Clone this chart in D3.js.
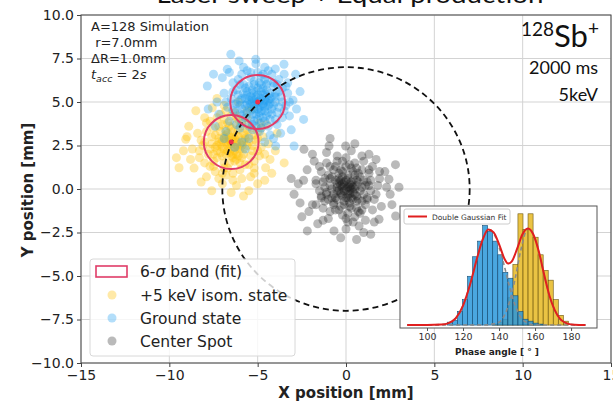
<!DOCTYPE html>
<html lang="en">
<head>
<meta charset="UTF-8">
<script src="https://d3js.org/d3.v7.min.js"></script>
<style>
  body { margin: 0; background: #fff; }
  svg { display: block; font-family: "DejaVu Sans", sans-serif; }
</style>
<title>Laser sweep + Equal production</title>
</head>
<body>
<div id="chart"></div>
<script>
// ---- data ----
const xTicks = [-15, -10, -5, 0, 5, 10, 15];
const yTicks = [-10, -7.5, -5, -2.5, 0, 2.5, 5, 7.5, 10];

const isomerPoints = [
  [-6.5,2.7],[-6.3,2.9],[-6.7,2.5],[-6.1,2.4],[-6.9,3.0],[-6.4,3.3],[-6.6,2.1],[-5.9,2.8],[-7.1,2.6],[-6.8,3.4],
  [-6.2,2.0],[-5.8,3.2],[-7.3,2.2],[-6.0,3.6],[-7.0,1.9],[-5.6,2.5],[-7.4,3.1],[-6.3,1.6],[-5.5,3.0],[-7.6,2.6],
  [-6.7,3.8],[-5.9,1.8],[-7.2,3.6],[-5.3,2.2],[-7.8,2.0],[-6.1,4.0],[-6.9,1.5],[-5.4,3.5],[-7.9,3.3],[-5.7,1.4],
  [-7.5,1.6],[-5.1,2.8],[-6.5,4.2],[-8.1,2.5],[-6.0,1.1],[-5.0,3.3],[-7.7,3.9],[-6.4,0.9],[-8.3,1.8],[-5.2,1.6],
  [-7.1,4.3],[-4.8,2.4],[-8.4,3.2],[-6.8,0.8],[-5.6,4.1],[-7.4,1.0],[-4.7,3.0],[-8.0,4.1],[-5.9,0.6],[-4.9,1.9],
  [-9.45,1.22],[-9.07,2.86],[-7.57,4.67],[-4.55,1.22],[-8.7,2.3],[-8.6,1.2],[-7.0,0.3],[-6.2,0.2],[-5.4,0.7],[-4.4,2.6],
  [-4.3,1.7],[-7.9,0.7],[-8.9,3.6],[-6.9,4.8],[-5.3,4.6],[-4.5,3.7],[-9.2,2.2],[-6.5,-0.2],[-7.6,-0.1],[-5.8,-0.4],
  [-4.0,2.2],[-8.5,4.5],[-6.1,5.0],[-3.9,3.2],[-9.6,1.8],[-7.3,5.2],[-5.0,0.3],[-8.2,0.4],[-4.2,0.9],[-3.5,1.5],
  [-6.6,2.8],[-6.3,2.4],[-6.8,2.9],[-6.0,2.6],[-6.9,2.3],[-6.4,3.0],[-7.0,2.8],[-6.2,3.1],[-6.7,2.2],[-5.8,2.3],
  [-7.2,2.9],[-6.1,3.4],[-6.5,1.9],[-5.7,2.9],[-7.3,2.5],[-6.6,3.6],[-6.2,1.7],[-7.5,2.0],[-5.6,3.7],[-6.9,1.2],
  [-8.2,2.8],[-5.2,1.2],[-7.7,1.3],[-4.9,3.8],[-8.8,1.7],[-6.3,4.4],[-5.5,-0.1],[-7.2,0.6],[-4.6,0.5],[-9.0,3.0],
  [-6.5,2.6],[-6.4,2.8],[-6.6,3.0],[-6.3,2.2],[-6.8,2.7],[-6.2,2.7],[-6.0,2.3],[-7.0,2.4],[-6.7,3.2],[-6.1,3.0],
  [-7.2,2.7],[-5.9,2.5],[-6.5,3.5],[-6.4,1.8],[-7.1,3.3],[-5.7,3.1],[-6.8,2.0],[-5.8,2.0],[-7.4,2.4],[-6.3,3.8],
  [-7.0,3.7],[-5.5,2.7],[-6.6,1.5],[-5.6,3.4],[-7.6,3.0],[-6.0,1.5],[-7.3,1.8],[-5.3,2.5],[-6.9,4.0],[-5.9,3.9],
  [-7.7,2.3],[-5.4,1.9],[-6.2,4.2],[-7.5,3.5],[-5.2,3.1],[-6.7,1.2],[-8.0,2.7],[-5.5,1.4],[-7.3,4.1],[-5.0,2.2],
  [-6.5,2.3],[-6.2,2.5],[-6.8,3.1],[-6.6,2.6],[-6.4,2.0],[-7.1,2.1],[-5.8,2.7],[-6.1,1.9],[-7.5,1.3],[-5.0,2.9],
  [-8.3,2.2],[-6.4,0.5],[-4.8,3.5],[-7.9,3.8],[-5.6,4.5],[-8.0,1.5],[-4.6,2.0],[-6.8,4.5],[-5.2,0.9],[-7.0,0.9]
];

const groundPoints = [
  [-5.0,5.0],[-4.8,5.2],[-5.2,4.8],[-4.6,4.7],[-5.4,5.3],[-5.1,5.6],[-4.9,4.4],[-4.4,5.1],[-5.6,4.9],[-5.3,4.3],
  [-4.7,5.8],[-4.2,4.6],[-5.8,5.5],[-4.5,4.2],[-5.5,5.9],[-4.3,5.5],[-5.9,4.6],[-4.9,6.1],[-5.2,3.9],[-4.0,5.0],
  [-6.0,5.1],[-4.6,6.3],[-5.7,4.1],[-3.9,4.4],[-5.4,6.4],[-4.1,5.9],[-6.2,5.7],[-4.8,3.8],[-3.7,5.3],[-6.3,4.4],
  [-5.0,6.7],[-4.4,3.6],[-5.9,3.8],[-3.6,5.8],[-6.5,5.2],[-4.2,6.6],[-5.6,6.8],[-3.4,4.8],[-6.1,6.3],[-4.9,3.3],
  [-3.8,6.3],[-6.7,4.7],[-5.3,3.4],[-3.3,5.5],[-6.4,6.1],[-4.6,7.0],[-3.9,3.7],[-6.0,3.5],[-5.1,7.2],[-3.2,4.2],
  [-6.9,5.5],[-4.0,6.9],[-5.8,7.0],[-3.5,6.6],[-6.6,3.9],[-4.3,3.1],[-3.0,5.1],[-6.52,7.74],[-6.05,7.36],[-5.11,7.45],
  [-3.51,7.17],[-7.85,5.92],[-6.72,6.88],[-2.85,6.59],[-2.94,2.47],[-3.98,2.47],[-7.3,5.0],[-7.0,6.4],[-2.8,4.6],[-3.1,3.4],
  [-5.5,2.9],[-4.6,2.7],[-7.2,4.3],[-2.6,5.6],[-5.9,2.7],[-4.1,2.9],[-7.5,6.6],[-3.3,6.1],[-6.8,3.3],[-2.4,4.0],
  [-5.2,6.0],[-4.7,5.4],[-5.6,5.6],[-4.4,4.4],[-5.0,4.0],[-4.8,6.5],[-5.3,5.0],[-4.5,5.0],[-5.7,5.2],[-4.2,5.3],
  [-4.9,4.7],[-5.1,5.3],[-5.4,4.5],[-4.7,4.9],[-5.2,5.1],[-4.6,5.5],[-5.5,4.7],[-4.3,4.9],[-5.8,6.0],[-4.0,5.5],
  [-6.2,4.9],[-3.9,6.0],[-6.4,5.6],[-5.3,3.7],[-4.8,3.5],[-6.0,4.3],[-3.6,4.1],[-4.5,6.0],[-6.6,6.7],[-3.7,3.2],
  [-6.9,2.9],[-7.4,3.6],[-6.3,2.4],[-7.8,4.6],[-5.7,2.3],
  [-5.1,4.9],[-4.9,5.1],[-5.3,5.2],[-4.7,4.8],[-5.0,5.4],[-5.2,4.6],[-4.8,5.6],[-4.5,5.3],[-5.5,5.1],[-4.6,4.5],
  [-5.4,4.9],[-4.4,4.8],[-5.7,4.8],[-4.9,4.2],[-5.0,5.8],[-4.3,5.2],[-5.6,5.4],[-4.7,4.1],[-5.3,5.7],[-4.1,4.8],
  [-5.9,5.2],[-4.5,5.7],[-5.1,4.3],[-4.2,4.3],[-5.6,4.4],[-4.8,6.0],[-5.4,4.0],[-4.0,5.3],[-6.0,4.8],[-4.4,6.2],
  [-5.7,5.8],[-4.6,3.9],[-5.2,6.2],[-3.8,4.7],[-6.1,5.4],[-4.1,6.1],[-5.5,3.6],[-3.8,5.6],[-6.3,4.9],[-4.7,6.6],
  [-5.1,3.6],[-3.6,5.0],[-6.0,6.0],[-4.3,4.0],[-5.8,4.3],[-4.9,5.0],[-5.0,4.6],[-4.6,5.1],[-5.3,5.5],[-4.8,4.5],
  [-6.4,4.5],[-3.5,4.5],[-5.4,6.7],[-4.4,6.8],[-6.8,5.0],[-3.4,5.9],[-5.9,6.6],[-4.0,4.0],[-6.2,3.7],[-3.2,5.0]
];

const centerPoints = [
  [0.0,0.0],[0.2,0.3],[-0.3,0.2],[0.4,-0.2],[-0.2,-0.4],[0.1,0.6],[-0.5,-0.1],[0.6,0.2],[-0.1,-0.7],[0.3,-0.5],
  [-0.6,0.5],[0.7,-0.6],[-0.4,0.9],[0.5,0.8],[-0.8,-0.5],[0.9,0.1],[-0.2,1.0],[0.2,-1.0],[-0.9,0.2],[1.0,-0.3],
  [-0.7,-0.9],[0.8,0.7],[-1.1,-0.2],[0.3,1.2],[-0.4,-1.2],[1.2,0.4],[-1.0,0.8],[0.6,-1.1],[-1.2,-0.7],[1.1,-0.9],
  [-0.6,1.3],[0.9,1.1],[-1.3,0.4],[0.1,-1.4],[1.4,-0.1],[-0.9,-1.3],[0.5,1.5],[-1.5,-0.1],[1.3,0.9],[-0.2,1.6],
  [0.8,-1.4],[-1.4,1.0],[1.6,-0.6],[-1.1,1.5],[0.0,-1.7],[1.5,1.3],[-1.7,-0.9],[0.4,-1.9],[-0.5,1.9],[1.8,0.2],
  [-0.96,2.47],[-0.02,2.47],[-2.38,2.28],[1.3,1.99],[-2.94,-0.3],[-2.19,-2.41],[-0.68,-2.41],[2.81,-1.55],[2.43,0.56],[1.87,-1.74],
  [0.74,-2.13],[-1.8,1.6],[2.0,-1.0],[-2.1,-1.3],[1.1,-1.8],[-1.3,-1.8],[0.9,1.9],[-2.4,0.5],[2.2,1.0],[-1.6,-2.0],
  [0.3,2.2],[1.6,-1.9],[-2.6,-0.8],[2.5,-0.3],[-1.9,2.0],[0.0,-2.3],[-2.7,0.3],[1.7,1.7],[-0.3,-2.8],[1.0,-2.5],
  [2.6,-0.9],[-2.2,1.1],[0.5,2.6],[-1.1,2.1],[1.9,0.6],[-2.5,-1.6],[2.3,0.1],[-1.7,0.3],[0.2,0.1],[-0.1,0.4],
  [0.4,0.5],[-0.3,-0.2],[0.5,-0.3],[-0.5,0.1],[0.1,-0.5],[0.3,0.0],[-0.2,0.7],[0.7,0.4],[-0.7,-0.3],[0.2,-0.8],
  [-0.4,0.4],[0.6,-0.7],[-0.8,0.7],[1.0,0.5],[-1.0,-0.6],[0.4,1.0],[-0.3,-1.0],[1.2,-0.5],[-1.2,0.1],[0.7,-1.3],
  [-0.7,1.1],[0.0,1.3],[1.3,0.2],[-1.4,-0.4],[3.0,0.1],[-3.1,0.6],[0.6,-2.9],[-0.9,2.9],[2.8,1.4],[1.4,-2.6],
  [0.1,0.1],[-0.1,-0.1],[0.3,0.2],[-0.3,-0.3],[0.2,-0.3],[-0.2,0.3],[0.5,0.0],[-0.5,0.3],[0.0,0.5],[0.0,-0.5],
  [0.6,0.5],[-0.6,-0.5],[0.4,-0.6],[-0.4,0.6],[0.8,-0.1],[-0.8,0.0],[0.1,0.8],[-0.1,-0.9],[0.7,0.9],[-0.7,-0.8],
  [0.9,-0.7],[-0.9,0.6],[0.3,-1.1],[-0.3,1.1],[1.1,0.2],[-1.1,-0.3],[0.6,1.2],[-0.6,-1.2],[1.2,-0.6],[-1.2,0.6],
  [0.2,1.4],[-0.2,-1.5],[1.4,0.5],[-1.4,-0.5],[0.9,-1.2],[-0.9,1.3],[1.3,1.1],[-1.3,-1.1],[0.0,1.8],[0.1,-1.9],
  [1.7,-0.3],[-1.7,0.5],[0.5,-1.6],[-0.5,1.6],[1.5,-1.2],[-1.5,1.3],[1.9,1.0],[-1.9,-0.9],[1.0,1.6],[-1.0,-1.7],
  [0.3,0.4],[-0.4,-0.1],[0.1,-0.3],[-0.2,0.1],[0.4,0.1],[-0.1,0.2],[0.2,-0.1],[-0.3,0.5],[0.6,-0.4],[-0.5,-0.6]
];

// fitted 6-sigma bands and the sweep ring (mm)
const bandCenters = [[-5.0, 5.0], [-6.5, 2.7]];
const bandRadius = 1.55;
const ringRadius = 7.0;

// inset histogram: phase angle bins (deg) and counts
const binEdges = [108.5,111.3,114.1,116.9,119.7,122.5,125.3,128.1,130.9,133.7,136.5,139.3,142.1,
                  144.9,147.7,150.5,153.3,156.1,158.9,161.7,164.5,167.3,170.1,172.9,175.7,178.5];
const groundCounts = [0,3,5,14,26,50,70,86,102,96,86,72,54,48,30,14,6,4,2,1,0,0,0,0,0];
const isomerCounts = [0,0,0,0,0,0,0,0,0,0,1,3,6,28,62,114,98,114,90,72,56,46,26,10,4];

const fitAngle  = [89,100,108,112,116,120,124,128,131,134,137,140,143,145,147,150,153,156,159,162,165,168,171,174,178,182,188];
const fitHeight = [0,0,0.5,2,7,20,42,70,88,98,95,83,68,63,65,78,93,99,93,76,52,30,15,6,1.5,0.3,0];
const compGroundAngle  = [89,108,112,116,120,124,128,131,134,137,140,143,146,149,152,156,160,188];
const compGroundHeight = [0,0.5,2,7,20,42,70,88,98,94,80,60,38,20,8,2,0,0];
const compIsomerAngle  = [89,132,136,140,143,146,149,152,156,159,162,165,168,171,174,178,182,188];
const compIsomerHeight = [0,0,1,3,10,25,48,76,99,93,76,52,30,15,6,1.5,0.3,0];
const insetTicks = [100, 120, 140, 160, 180];

// ---- drawing ----
const W = 613, H = 401;
const svg = d3.select("#chart").append("svg").attr("width", W).attr("height", H);

const x = d3.scaleLinear().domain([-15, 15]).range([81, 611]);
const y = d3.scaleLinear().domain([-10, 10]).range([363, 15]);

// grid
svg.append("g").selectAll("line").data(xTicks).join("line")
  .attr("x1", d => x(d)).attr("x2", d => x(d)).attr("y1", y(10)).attr("y2", y(-10))
  .attr("stroke", "#d3d3d3").attr("stroke-width", 1);
svg.append("g").selectAll("line").data(yTicks).join("line")
  .attr("x1", x(-15)).attr("x2", x(15)).attr("y1", d => y(d)).attr("y2", d => y(d))
  .attr("stroke", "#d3d3d3").attr("stroke-width", 1);

const scatter = (pts, color, op) => svg.append("g").selectAll("circle").data(pts).join("circle")
  .attr("cx", d => x(d[0])).attr("cy", d => y(d[1])).attr("r", 4.5)
  .attr("fill", color).attr("fill-opacity", op);

scatter(isomerPoints, "#ffc20a", 0.36);
scatter(groundPoints, "#1f9ff0", 0.34);
scatter(centerPoints, "#1a1a1a", 0.3);

// sweep ring
svg.append("ellipse")
  .attr("cx", x(0)).attr("cy", y(0))
  .attr("rx", x(ringRadius) - x(0)).attr("ry", y(0) - y(ringRadius))
  .attr("fill", "none").attr("stroke", "#111").attr("stroke-width", 1.8)
  .attr("stroke-dasharray", "6,4");

// 6-sigma bands
svg.append("g").selectAll("ellipse").data(bandCenters).join("ellipse")
  .attr("cx", d => x(d[0])).attr("cy", d => y(d[1]))
  .attr("rx", x(bandRadius) - x(0)).attr("ry", y(0) - y(bandRadius))
  .attr("fill", "none").attr("stroke", "#e03c68").attr("stroke-width", 2);
svg.append("g").selectAll("circle").data(bandCenters).join("circle")
  .attr("cx", d => x(d[0])).attr("cy", d => y(d[1])).attr("r", 2.5)
  .attr("fill", "#f0304a");

// frame + axes
svg.append("rect").attr("x", x(-15)).attr("y", y(10))
  .attr("width", x(15) - x(-15)).attr("height", y(-10) - y(10))
  .attr("fill", "none").attr("stroke", "#444").attr("stroke-width", 1);

const xAxis = svg.append("g").attr("transform", `translate(0,${y(-10)})`)
  .call(d3.axisBottom(x).tickValues(xTicks).tickSize(4).tickSizeOuter(0).tickPadding(3));
xAxis.select(".domain").remove();
xAxis.selectAll("text").attr("font-size", 14).attr("font-family", "DejaVu Sans").attr("fill", "#222");
xAxis.selectAll("line").attr("stroke", "#444");

const yAxis = svg.append("g").attr("transform", `translate(${x(-15)},0)`)
  .call(d3.axisLeft(y).tickValues(yTicks).tickFormat(d3.format(".1f")).tickSize(4).tickSizeOuter(0).tickPadding(3));
yAxis.select(".domain").remove();
yAxis.selectAll("text").attr("font-size", 14).attr("font-family", "DejaVu Sans").attr("fill", "#222");
yAxis.selectAll("line").attr("stroke", "#444");

svg.append("text").attr("x", 346).attr("y", 398).attr("text-anchor", "middle")
  .attr("font-size", 15).attr("font-weight", "bold").attr("fill", "#222").text("X position [mm]");
svg.append("text").attr("transform", "translate(33,190) rotate(-90)").attr("text-anchor", "middle")
  .attr("font-size", 15).attr("font-weight", "bold").attr("fill", "#222").text("Y position [mm]");

// main legend
const leg = svg.append("g");
leg.append("rect").attr("x", 90).attr("y", 259).attr("width", 205).attr("height", 97).attr("rx", 3)
  .attr("fill", "#fff").attr("fill-opacity", 0.8).attr("stroke", "#d8d8d8");
leg.append("rect").attr("x", 96).attr("y", 266).attr("width", 31).attr("height", 11)
  .attr("fill", "none").attr("stroke", "#e03c68").attr("stroke-width", 1.6);
const legRows = [
  { label: "+5 keV isom. state", color: "#ffc20a", op: 0.36, cy: 295 },
  { label: "Ground state", color: "#1f9ff0", op: 0.34, cy: 318 },
  { label: "Center Spot", color: "#1a1a1a", op: 0.3, cy: 341 }
];
leg.selectAll("circle").data(legRows).join("circle")
  .attr("cx", 112).attr("cy", d => d.cy).attr("r", 4.5)
  .attr("fill", d => d.color).attr("fill-opacity", d => d.op);
const legText = leg.append("g").attr("font-size", 15.5).attr("fill", "#222");
const t0 = legText.append("text").attr("x", 140).attr("y", 277);
t0.append("tspan").text("6-");
t0.append("tspan").attr("font-style", "italic").text("σ");
t0.append("tspan").text(" band (fit)");
legText.selectAll("text.row").data(legRows).join("text").attr("class", "row")
  .attr("x", 140).attr("y", d => d.cy + 6).text(d => d.label);

// annotations
const note = svg.append("g").attr("font-size", 13).attr("fill", "#222");
note.append("text").attr("x", 91).attr("y", 31).text("A=128 Simulation");
note.append("text").attr("x", 91).attr("y", 47).text("\u00a0r=7.0mm");
note.append("text").attr("x", 91).attr("y", 63).text("ΔR=1.0mm");
const tacc = note.append("text").attr("x", 91).attr("y", 79);
tacc.append("tspan").attr("font-style", "italic").text("t");
tacc.append("tspan").attr("font-style", "italic").attr("font-size", 9.5).attr("dy", 3).text("acc");
tacc.append("tspan").attr("dy", -3).text(" = 2");
tacc.append("tspan").attr("font-style", "italic").text("s");

const sb = svg.append("text").attr("x", 599).attr("y", 47).attr("text-anchor", "end")
  .attr("font-family", "Lato, sans-serif").attr("fill", "#111");
sb.append("tspan").attr("font-size", 19).attr("dy", -11).text("128");
sb.append("tspan").attr("font-size", 31).attr("dy", 11).text("Sb");
sb.append("tspan").attr("font-size", 19).attr("dy", -12).text("+");
svg.append("text").attr("x", 598).attr("y", 74).attr("text-anchor", "end")
  .attr("font-family", "Lato, sans-serif").attr("font-size", 18).attr("fill", "#111").text("2000 ms");
svg.append("text").attr("x", 598).attr("y", 101).attr("text-anchor", "end")
  .attr("font-family", "Lato, sans-serif").attr("font-size", 18).attr("fill", "#111").text("5keV");

svg.append("text").attr("x", 350).attr("y", 3).attr("text-anchor", "middle")
  .attr("font-family", "Lato, sans-serif").attr("font-size", 24).attr("fill", "#111")
  .attr("textLength", 387).attr("lengthAdjust", "spacingAndGlyphs")
  .text("Laser sweep + Equal production");

// ---- inset histogram ----
const ix = d3.scaleLinear().domain([85, 194.4]).range([400, 597]);
const iy = d3.scaleLinear().domain([-3, 122]).range([328, 206]);
const inset = svg.append("g");
inset.append("rect").attr("x", 400).attr("y", 206).attr("width", 197).attr("height", 122).attr("fill", "#fff");

const bins = d3.pairs(binEdges);
const barSet = (counts, fill, stroke) => inset.append("g").selectAll("rect").data(bins).join("rect")
  .attr("x", (d) => ix(d[0])).attr("width", d => ix(d[1]) - ix(d[0]))
  .attr("y", (d, i) => iy(counts[i])).attr("height", (d, i) => iy(0) - iy(counts[i]))
  .attr("fill", fill).attr("fill-opacity", 0.85).attr("stroke", stroke).attr("stroke-width", 0.6);
barSet(isomerCounts, "#e6b822", "#6b5510");
barSet(groundCounts, "#2a98da", "#174d73");

const curve = (ax, hy) => d3.line().curve(d3.curveMonotoneX)
  .x((d, i) => ix(ax[i])).y((d, i) => iy(hy[i]))(ax);
inset.append("path").attr("d", curve(compGroundAngle, compGroundHeight))
  .attr("fill", "none").attr("stroke", "#8a8a8a").attr("stroke-width", 1.6).attr("stroke-dasharray", "4,3");
inset.append("path").attr("d", curve(compIsomerAngle, compIsomerHeight))
  .attr("fill", "none").attr("stroke", "#8a8a8a").attr("stroke-width", 1.6).attr("stroke-dasharray", "4,3");
inset.append("path").attr("d", curve(fitAngle, fitHeight))
  .attr("fill", "none").attr("stroke", "#e01f1f").attr("stroke-width", 2);

inset.append("rect").attr("x", 400).attr("y", 206).attr("width", 197).attr("height", 122)
  .attr("fill", "none").attr("stroke", "#555").attr("stroke-width", 1);

const ixAxis = inset.append("g").attr("transform", "translate(0,328)")
  .call(d3.axisBottom(ix).tickValues(insetTicks).tickSize(3).tickSizeOuter(0).tickPadding(2));
ixAxis.select(".domain").remove();
ixAxis.selectAll("text").attr("font-size", 9.5).attr("font-family", "DejaVu Sans").attr("fill", "#333");
ixAxis.selectAll("line").attr("stroke", "#555");
inset.append("text").attr("x", 497).attr("y", 355).attr("text-anchor", "middle")
  .attr("font-size", 9).attr("font-weight", "bold").attr("fill", "#222").text("Phase angle [ ° ]");

const ileg = inset.append("g");
ileg.append("rect").attr("x", 404).attr("y", 209).attr("width", 106).attr("height", 15).attr("rx", 2)
  .attr("fill", "#fff").attr("fill-opacity", 0.85).attr("stroke", "#ccc");
ileg.append("line").attr("x1", 408).attr("x2", 427).attr("y1", 216.5).attr("y2", 216.5)
  .attr("stroke", "#e01f1f").attr("stroke-width", 2);
ileg.append("text").attr("x", 432).attr("y", 219.5).attr("font-size", 7.5).attr("fill", "#333")
  .text("Double Gaussian Fit");
</script>
</body>
</html>
